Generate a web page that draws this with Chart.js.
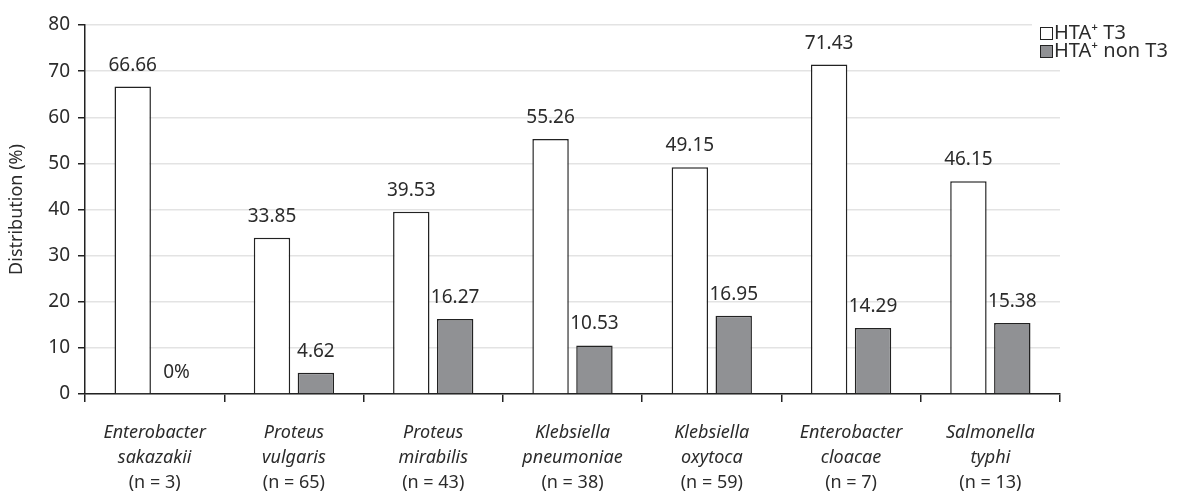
<!DOCTYPE html>
<html>
<head>
<meta charset="utf-8">
<script src="https://cdn.jsdelivr.net/npm/chart.js@4/dist/chart.umd.min.js"></script>
<style>
  html, body { margin: 0; padding: 0; background: #fff; }
  #wrap { width: 1177px; height: 495px; }
</style>
</head>
<body>
<div id="wrap"><canvas id="chart" width="1177" height="495"></canvas></div>
<script>
// data
const species = ["Enterobacter sakazakii", "Proteus vulgaris", "Proteus mirabilis",
  "Klebsiella pneumoniae", "Klebsiella oxytoca", "Enterobacter cloacae", "Salmonella typhi"];
const speciesLines = [["Enterobacter", "sakazakii"], ["Proteus", "vulgaris"], ["Proteus", "mirabilis"],
  ["Klebsiella", "pneumoniae"], ["Klebsiella", "oxytoca"], ["Enterobacter", "cloacae"], ["Salmonella", "typhi"]];
const counts = ["(n = 3)", "(n = 65)", "(n = 43)", "(n = 38)", "(n = 59)", "(n = 7)", "(n = 13)"];
const t3 = [66.66, 33.85, 39.53, 55.26, 49.15, 71.43, 46.15];
const nonT3 = [0, 4.62, 16.27, 10.53, 16.95, 14.29, 15.38];
const t3Labels = ["66.66", "33.85", "39.53", "55.26", "49.15", "71.43", "46.15"];
const nonT3Labels = ["0%", "4.62", "16.27", "10.53", "16.95", "14.29", "15.38"];
const seriesNames = ["HTA\u207A T3", "HTA\u207A non T3"];

const FONT = "'Noto Sans', 'Open Sans', sans-serif";
const TEXT = "#2b2b2b";

// value labels above the bars
const valueLabels = {
  id: "valueLabels",
  afterDatasetsDraw(chart) {
    const ctx = chart.ctx;
    const sets = [t3Labels, nonT3Labels];
    ctx.save();
    ctx.font = "19px " + FONT;
    ctx.fillStyle = TEXT;
    ctx.textAlign = "center";
    ctx.textBaseline = "alphabetic";
    chart.data.datasets.forEach((ds, i) => {
      chart.getDatasetMeta(i).data.forEach((bar, j) => {
        ctx.fillText(sets[i][j], bar.x, bar.y - 16);
      });
    });
    ctx.restore();
  }
};

// two-style category labels + legend
const extras = {
  id: "extras",
  afterDraw(chart) {
    const ctx = chart.ctx;
    const x = chart.scales.x;
    const bottom = chart.chartArea.bottom;
    ctx.save();
    ctx.fillStyle = TEXT;
    ctx.textAlign = "center";
    ctx.textBaseline = "middle";
    species.forEach((s, i) => {
      const px = x.getPixelForValue(i);
      ctx.font = "italic 18px " + FONT;
      ctx.fillText(speciesLines[i][0], px, bottom + 39);
      ctx.fillText(speciesLines[i][1], px, bottom + 64);
      ctx.font = "18px " + FONT;
      ctx.fillText(counts[i], px, bottom + 89);
    });

    // legend
    const lx = 1040, ly = 27;
    ctx.fillStyle = "#fff";
    ctx.fillRect(lx - 8, ly - 6, 1177 - lx + 8, 42);
    const fills = ["#ffffff", "#909194"];
    seriesNames.forEach((name, i) => {
      const y = ly + i * 18;
      ctx.fillStyle = fills[i];
      ctx.strokeStyle = "#222";
      ctx.lineWidth = 1;
      ctx.fillRect(lx + 0.5, y + 0.5, 12, 12);
      ctx.strokeRect(lx + 0.5, y + 0.5, 12, 12);
      ctx.fillStyle = TEXT;
      ctx.font = "20px " + FONT;
      ctx.textAlign = "left";
      ctx.fillText(name, lx + 14, y + 6);
    });
    ctx.restore();
  }
};

new Chart(document.getElementById("chart"), {
  type: "bar",
  data: {
    labels: species,
    datasets: [
      { label: seriesNames[0], data: t3, backgroundColor: "#ffffff", borderColor: "#222", borderWidth: 1.5,
        categoryPercentage: 0.63, barPercentage: 0.83 },
      { label: seriesNames[1], data: nonT3, backgroundColor: "#909194", borderColor: "#222", borderWidth: 1.5,
        categoryPercentage: 0.63, barPercentage: 0.83 }
    ]
  },
  options: {
    responsive: false,
    animation: false,
    layout: { padding: { top: 25, right: 117, left: 0, bottom: 0 } },
    plugins: { legend: { display: false }, tooltip: { enabled: false } },
    scales: {
      x: {
        afterFit(scale) { scale.height = 101; },
        grid: { offset: true, drawOnChartArea: false, tickLength: 8, color: "#222", lineWidth: 1.5 },
        border: { color: "#222", width: 1.5 },
        ticks: { display: false }
      },
      y: {
        min: 0, max: 80,
        afterFit(scale) { scale.width = 85; },
        grid: { color: "#e3e3e3", lineWidth: 1.5, tickLength: 7, tickColor: "#222" },
        border: { color: "#222", width: 1.5 },
        ticks: { stepSize: 10, padding: 8, color: TEXT, font: { family: FONT, size: 19 } },
        title: { display: true, text: "Distribution (%)", color: TEXT, font: { family: FONT, size: 18 }, padding: { top: 6, bottom: 0 } }
      }
    }
  },
  plugins: [valueLabels, extras]
});
</script>
</body>
</html>
